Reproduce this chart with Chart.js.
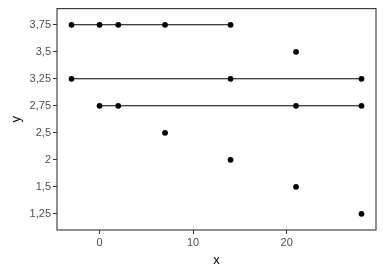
<!DOCTYPE html>
<html>
<head>
<meta charset="utf-8">
<script src="https://cdn.jsdelivr.net/npm/chart.js@4.4.0/dist/chart.umd.min.js"></script>
<style>
  html, body { margin: 0; padding: 0; background: #fff; }
  #wrap { width: 384px; height: 275px; }
</style>
</head>
<body>
<div id="wrap"><canvas id="myChart"></canvas></div>
<script>
  // y levels (discrete axis, bottom to top)
  const yLabels = ['1,25', '1,5', '2', '2,5', '2,75', '3,25', '3,5', '3,75'];
  const xTicks = [0, 10, 20];

  // one group per y level: x positions
  const rowY = ['3,75', '3,5', '3,25', '2,75', '2,5', '2', '1,5', '1,25'];
  const rowX = [
    [-3, 0, 2, 7, 14],
    [21],
    [-3, 14, 28],
    [0, 2, 21, 28],
    [7],
    [14],
    [21],
    [28]
  ];

  const datasets = rowY.map(function (lab, i) {
    return {
      data: rowX[i].map(function (x) { return { x: x, y: yLabels.indexOf(lab) }; }),
      showLine: rowX[i].length > 1,
      borderColor: '#000',
      backgroundColor: '#000',
      borderWidth: 1.1,
      pointRadius: 2.9,
      pointHoverRadius: 2.9,
      pointBorderWidth: 0
    };
  });

  const panelBox = {
    id: 'panelBox',
    afterDraw(chart) {
      const a = chart.chartArea;
      const c = chart.ctx;
      c.save();
      c.strokeStyle = '#333333';
      c.lineWidth = 1.1;
      c.strokeRect(a.left, a.top, a.right - a.left, a.bottom - a.top);
      c.restore();
    }
  };

  const tickFont = { family: 'Liberation Sans, Arial, sans-serif', size: 11 };
  const titleFont = { family: 'Liberation Sans, Arial, sans-serif', size: 13 };

  new Chart(document.getElementById('myChart'), {
    type: 'scatter',
    data: { datasets: datasets },
    plugins: [panelBox],
    options: {
      responsive: true,
      maintainAspectRatio: false,
      animation: false,
      layout: { padding: { top: 7, right: 8, left: 0, bottom: 0 } },
      plugins: { legend: { display: false }, tooltip: { enabled: false } },
      scales: {
        x: {
          type: 'linear',
          min: -4.55,
          max: 29.55,
          afterBuildTicks: function (s) { s.ticks = xTicks.map(function (v) { return { value: v }; }); },
          afterFit: function (s) { s.height = 45; },
          grid: { drawOnChartArea: false, tickLength: 4, color: '#333333', lineWidth: 1 },
          border: { display: false },
          ticks: { color: '#4d4d4d', font: tickFont, padding: 2, maxRotation: 0 },
          title: { display: true, text: 'x', color: '#000', font: titleFont, padding: { top: 0, bottom: 7 } }
        },
        y: {
          type: 'linear',
          min: -0.6,
          max: 7.6,
          afterBuildTicks: function (s) { s.ticks = yLabels.map(function (_, i) { return { value: i }; }); },
          afterFit: function (s) { s.width = 57; },
          grid: { drawOnChartArea: false, tickLength: 4, color: '#333333', lineWidth: 1 },
          border: { display: false },
          ticks: {
            color: '#4d4d4d', font: tickFont, padding: 2,
            callback: function (v) { return yLabels[v]; }
          },
          title: { display: true, text: 'y', color: '#000', font: titleFont, padding: { top: 9, bottom: 4 } }
        }
      }
    }
  });
</script>
</body>
</html>
